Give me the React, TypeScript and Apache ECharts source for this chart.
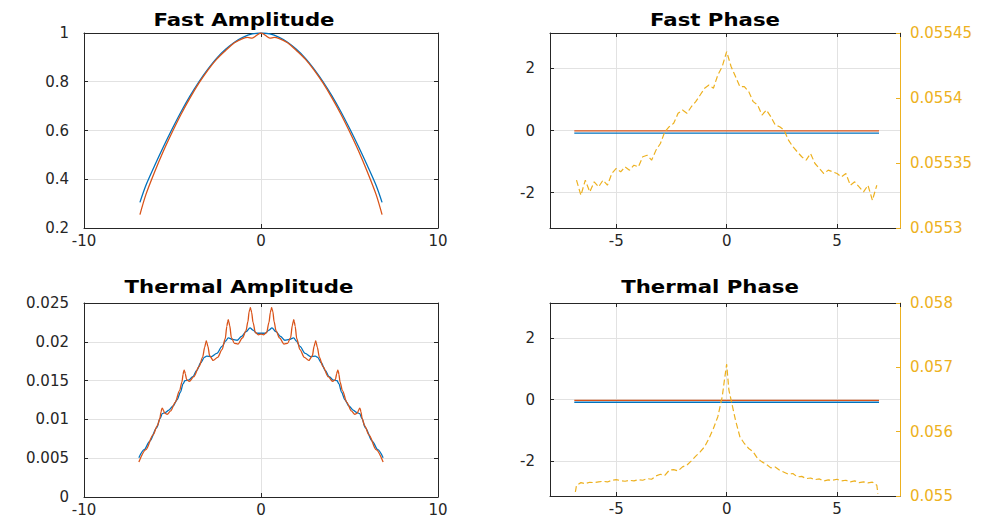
import React, { useEffect, useRef } from "react";
import * as echarts from "echarts";

// ---------------- Data ----------------
const fastAmpBlueX = [-6.84, -6.5, -6, -5.5, -5, -4.5, -4, -3.5, -3, -2.5, -2, -1.5, -1, -0.5, 0, 0.5, 1, 1.5, 2, 2.5, 3, 3.5, 4, 4.5, 5, 5.5, 6, 6.5, 6.84];
const fastAmpBlue = [0.305, 0.375, 0.457, 0.535, 0.609, 0.679, 0.743, 0.801, 0.852, 0.897, 0.933, 0.962, 0.983, 0.996, 1, 0.996, 0.983, 0.962, 0.933, 0.897, 0.852, 0.801, 0.743, 0.679, 0.609, 0.535, 0.457, 0.375, 0.305];

const fastAmpOrangeX = [-6.84, -6.5, -6, -5.5, -5, -4.5, -4, -3.5, -3, -2.5, -2, -1.5, -1, -0.75, -0.5, -0.25, 0, 0.25, 0.5, 0.75, 1, 1.5, 2, 2.5, 3, 3.5, 4, 4.5, 5, 5.5, 6, 6.5, 6.84];
const fastAmpOrange = [0.255, 0.338, 0.432, 0.518, 0.596, 0.669, 0.735, 0.795, 0.848, 0.893, 0.928, 0.96, 0.978, 0.982, 0.979, 0.99, 1, 0.99, 0.979, 0.982, 0.978, 0.96, 0.928, 0.893, 0.848, 0.795, 0.735, 0.669, 0.596, 0.518, 0.432, 0.338, 0.255];

const phaseLineX = [-6.9, 6.9];
const fastPhaseBlue = [-0.085, -0.085];
const fastPhaseOrange = [-0.01, -0.01];
const thermalPhaseBlue = [-0.09, -0.09];
const thermalPhaseOrange = [-0.03, -0.03];

const fastPhaseYellowX = [-6.8, -6.6, -6.4, -6.2, -6, -5.8, -5.6, -5.4, -5.2, -5, -4.8, -4.6, -4.4, -4.2, -4, -3.8, -3.6, -3.4, -3.2, -3, -2.8, -2.6, -2.4, -2.2, -2, -1.8, -1.6, -1.4, -1.2, -1, -0.8, -0.6, -0.4, -0.2, 0, 0.2, 0.4, 0.6, 0.8, 1, 1.2, 1.4, 1.6, 1.8, 2, 2.2, 2.4, 2.6, 2.8, 3, 3.2, 3.4, 3.6, 3.8, 4, 4.2, 4.4, 4.6, 4.8, 5, 5.2, 5.4, 5.6, 5.8, 6, 6.2, 6.4, 6.6, 6.8];
const fastPhaseYellow = [0.0553368, 0.0553252, 0.0553368, 0.0553278, 0.0553355, 0.0553316, 0.0553368, 0.0553329, 0.0553419, 0.0553458, 0.0553432, 0.055347, 0.0553445, 0.0553483, 0.055347, 0.0553548, 0.055356, 0.0553522, 0.0553599, 0.055365, 0.055374, 0.0553779, 0.0553805, 0.0553882, 0.0553907, 0.0553882, 0.0553933, 0.0553972, 0.0554023, 0.0554075, 0.05541, 0.0554075, 0.0554177, 0.0554242, 0.0554357, 0.0554242, 0.0554165, 0.0554087, 0.0554087, 0.0554049, 0.0553972, 0.0553946, 0.0553869, 0.0553907, 0.0553856, 0.0553792, 0.0553779, 0.0553753, 0.0553676, 0.0553625, 0.0553586, 0.0553548, 0.0553522, 0.0553573, 0.0553496, 0.0553458, 0.0553419, 0.0553445, 0.0553432, 0.0553419, 0.0553393, 0.0553419, 0.0553329, 0.0553355, 0.0553316, 0.0553278, 0.0553329, 0.0553213, 0.0553329];

const thermalAmpBlueX = [-6.9, -6.6, -6.28, -5.9, -5.7, -5.58, -5.4, -5.2, -4.96, -4.75, -4.55, -4.4, -4.3, -4.1, -3.85, -3.64, -3.4, -3.2, -3.07, -2.8, -2.5, -2.2, -2, -1.85, -1.6, -1.35, -1.1, -0.85, -0.62, -0.45, -0.25, 0, 0.25, 0.45, 0.62, 0.85, 1.1, 1.35, 1.6, 1.85, 2, 2.2, 2.5, 2.8, 3.07, 3.2, 3.4, 3.64, 3.85, 4.1, 4.3, 4.4, 4.55, 4.75, 4.96, 5.2, 5.4, 5.58, 5.7, 5.9, 6.28, 6.6, 6.9];
const thermalAmpBlue = [0.00505, 0.0061, 0.0072, 0.0089, 0.0101, 0.01075, 0.0109, 0.0112, 0.01174, 0.0125, 0.0135, 0.0146, 0.015, 0.01505, 0.0155, 0.01628, 0.0173, 0.018, 0.01815, 0.0181, 0.0185, 0.0194, 0.0201, 0.0205, 0.0203, 0.0202, 0.0207, 0.0213, 0.0218, 0.0215, 0.0211, 0.0211, 0.0211, 0.0215, 0.0218, 0.0213, 0.0207, 0.0202, 0.0203, 0.0205, 0.0201, 0.0194, 0.0185, 0.0181, 0.01815, 0.018, 0.0173, 0.01628, 0.0155, 0.01505, 0.015, 0.0146, 0.0135, 0.0125, 0.01174, 0.0112, 0.0109, 0.01075, 0.0101, 0.0089, 0.0072, 0.0061, 0.00505];

const thermalAmpOrangeX = [-6.9, -6.5, -6.1, -5.85, -5.72, -5.64, -5.61, -5.58, -5.55, -5.52, -5.44, -5.3, -5.1, -4.85, -4.6, -4.47, -4.4, -4.37, -4.34, -4.31, -4.28, -4.2, -4.05, -3.8, -3.5, -3.3, -3.18, -3.12, -3.09, -3.06, -3, -2.9, -2.7, -2.45, -2.2, -2.02, -1.93, -1.88, -1.85, -1.82, -1.77, -1.67, -1.5, -1.3, -1.05, -0.85, -0.74, -0.67, -0.63, -0.6, -0.57, -0.53, -0.45, -0.32, -0.15, 0,
  0.15, 0.32, 0.45, 0.53, 0.57, 0.6, 0.63, 0.67, 0.74, 0.85, 1.05, 1.3, 1.5, 1.67, 1.77, 1.82, 1.85, 1.88, 1.93, 2.02, 2.2, 2.45, 2.7, 2.9, 3, 3.06, 3.09, 3.12, 3.18, 3.3, 3.5, 3.8, 4.05, 4.2, 4.28, 4.31, 4.34, 4.37, 4.4, 4.47, 4.6, 4.85, 5.1, 5.3, 5.44, 5.52, 5.55, 5.58, 5.61, 5.64, 5.72, 5.85, 6.1, 6.5, 6.9];
const thermalAmpOrange = [0.0045, 0.0061, 0.008, 0.0092, 0.0101, 0.011, 0.01136, 0.01144, 0.01136, 0.0112, 0.0108, 0.01065, 0.0111, 0.0122, 0.0137, 0.0148, 0.0158, 0.0162, 0.01635, 0.0162, 0.0159, 0.0151, 0.0149, 0.0155, 0.0168, 0.018, 0.0193, 0.01988, 0.0201, 0.01988, 0.0194, 0.0182, 0.0176, 0.018, 0.019, 0.0204, 0.022, 0.0226, 0.02285, 0.0226, 0.0221, 0.0205, 0.0198, 0.0197, 0.0205, 0.0214, 0.0226, 0.0239, 0.02415, 0.0244, 0.02415, 0.0238, 0.0225, 0.0212, 0.0209, 0.021,
  0.0209, 0.0212, 0.0225, 0.0238, 0.02415, 0.0244, 0.02415, 0.0239, 0.0226, 0.0214, 0.0205, 0.0197, 0.0198, 0.0205, 0.0221, 0.0226, 0.02285, 0.0226, 0.022, 0.0204, 0.019, 0.018, 0.0176, 0.0182, 0.0194, 0.01988, 0.0201, 0.01988, 0.0193, 0.018, 0.0168, 0.0155, 0.0149, 0.0151, 0.0159, 0.0162, 0.01635, 0.0162, 0.0158, 0.0148, 0.0137, 0.0122, 0.0111, 0.01065, 0.0108, 0.0112, 0.01136, 0.01144, 0.01136, 0.011, 0.0101, 0.0092, 0.008, 0.0061, 0.0045];

const thermalPhaseYellowX = [-6.85, -6.8, -6.6, -6.4, -6.2, -6, -5.8, -5.6, -5.4, -5.2, -5, -4.8, -4.6, -4.4, -4.2, -4, -3.8, -3.6, -3.4, -3.2, -3, -2.8, -2.6, -2.4, -2.2, -2, -1.8, -1.6, -1.4, -1.2, -1, -0.8, -0.6, -0.4, -0.2, -0.1, 0, 0.1, 0.2, 0.4, 0.6, 0.8, 1, 1.2, 1.4, 1.6, 1.8, 2, 2.2, 2.4, 2.6, 2.8, 3, 3.2, 3.4, 3.6, 3.8, 4, 4.2, 4.4, 4.6, 4.8, 5, 5.2, 5.4, 5.6, 5.8, 6, 6.2, 6.4, 6.6, 6.8, 6.85];
const thermalPhaseYellow = [0.0550624, 0.0551664, 0.055208, 0.0551924, 0.0552132, 0.055208, 0.0552184, 0.0552288, 0.0552184, 0.0552444, 0.0552548, 0.0552392, 0.0552288, 0.0552444, 0.055234, 0.0552548, 0.0552444, 0.0552704, 0.05526, 0.055312, 0.055338, 0.05532, 0.0554004, 0.0554108, 0.05539, 0.0554524, 0.05548, 0.055546, 0.0556188, 0.0556864, 0.0557644, 0.0558944, 0.0560504, 0.0562324, 0.0565445, 0.0568045, 0.0570489, 0.0566485, 0.0564925, 0.0561804, 0.0559204, 0.0558164, 0.0557384, 0.0556864, 0.0555824, 0.0555304, 0.05549, 0.0554368, 0.05545, 0.0554004, 0.05537, 0.055338, 0.05535, 0.0552964, 0.055305, 0.0552704, 0.05528, 0.0552548, 0.055265, 0.055234, 0.05525, 0.0552444, 0.05526, 0.055234, 0.055245, 0.0552184, 0.055235, 0.055208, 0.05522, 0.0552028, 0.055215, 0.0551664, 0.0550364];

const titles = ["Fast Amplitude", "Fast Phase", "Thermal Amplitude", "Thermal Phase"];

// ---------------- Styles ----------------
const BLUE = "#0072BD";
const ORANGE = "#D95319";
const YELLOW = "#EDB120";
const AXIS = "#262626";
const GRID = "#e2e2e2";
const FONT = "DejaVu Sans";

const pair = (xs: number[], ys: number[]) => xs.map((x, i) => [x, ys[i]]);

function xAx(gridIndex: number, position: string, cfg: any, labels: boolean) {
  return {
    type: "value",
    gridIndex,
    position,
    ...cfg,
    axisLine: { show: true, onZero: false, lineStyle: { color: AXIS, width: 1 } },
    axisTick: { show: true, inside: true, length: 4, lineStyle: { color: AXIS, width: 1 } },
    axisLabel: {
      show: labels,
      color: AXIS,
      fontSize: 15,
      fontFamily: FONT,
      margin: 5,
      showMinLabel: cfg.showEnds,
      showMaxLabel: cfg.showEnds,
    },
    splitLine: { show: labels, lineStyle: { color: GRID, width: 1 } },
  };
}

function yAx(gridIndex: number, position: string, cfg: any, labels: boolean, color: string, split: boolean) {
  return {
    type: "value",
    gridIndex,
    position,
    ...cfg,
    axisLine: { show: true, onZero: false, lineStyle: { color, width: 1 } },
    axisTick: { show: true, inside: true, length: 4, lineStyle: { color, width: 1 } },
    axisLabel: {
      show: labels,
      color,
      fontSize: 15,
      fontFamily: FONT,
      margin: position === "right" ? 10 : 15,
      showMinLabel: cfg.showEnds,
      showMaxLabel: cfg.showEnds,
    },
    splitLine: { show: split, lineStyle: { color: GRID, width: 1 } },
  };
}

function line(xs: number[], ys: number[], color: string, xi: number, yi: number, extra: any = {}) {
  return {
    type: "line",
    xAxisIndex: xi,
    yAxisIndex: yi,
    data: pair(xs, ys),
    showSymbol: false,
    symbol: "none",
    silent: true,
    lineStyle: { color, width: 1.3 },
    itemStyle: { color },
    ...extra,
  };
}

export default function App() {
  const ref = useRef<HTMLDivElement>(null);
  useEffect(() => {
    const chart = echarts.init(ref.current!, null, { renderer: "svg" });

    const leftX = { min: -10, max: 10, interval: 10, showEnds: true };
    const rightX = { min: -8, max: 7.85, splitNumber: 3, minInterval: 5, maxInterval: 5, showEnds: false };
    const phaseY = { min: -Math.PI, max: Math.PI, splitNumber: 3, minInterval: 2, maxInterval: 2, showEnds: false };
    const fastAmpY = { min: 0.2, max: 1, interval: 0.2, showEnds: true };
    const thermAmpY = { min: 0, max: 0.025, interval: 0.005, showEnds: true };
    const fastPhaseR = { min: 0.0553, max: 0.05545, interval: 0.00005, showEnds: true };
    const thermPhaseR = { min: 0.055, max: 0.058, interval: 0.001, showEnds: true };

    const titleCenters = [
      [244, 20],
      [715, 20],
      [239, 287],
      [710, 287],
    ];

    const option: any = {
      animation: false,
      backgroundColor: "#ffffff",
      grid: [
        { left: 84, top: 33, width: 354, height: 195 },
        { left: 550, top: 33, width: 350, height: 195 },
        { left: 84, top: 303, width: 354, height: 194 },
        { left: 550, top: 303, width: 350, height: 193 },
      ],
      xAxis: [
        xAx(0, "bottom", leftX, true),
        xAx(0, "top", leftX, false),
        xAx(1, "bottom", rightX, true),
        xAx(1, "top", rightX, false),
        xAx(2, "bottom", leftX, true),
        xAx(2, "top", leftX, false),
        xAx(3, "bottom", rightX, true),
        xAx(3, "top", rightX, false),
      ],
      yAxis: [
        yAx(0, "left", fastAmpY, true, AXIS, true),
        yAx(0, "right", fastAmpY, false, AXIS, false),
        yAx(1, "left", phaseY, true, AXIS, true),
        yAx(1, "right", fastPhaseR, true, YELLOW, false),
        yAx(2, "left", thermAmpY, true, AXIS, true),
        yAx(2, "right", thermAmpY, false, AXIS, false),
        yAx(3, "left", phaseY, true, AXIS, true),
        yAx(3, "right", thermPhaseR, true, YELLOW, false),
      ],
      graphic: titles.map((t, i) => ({
        type: "text",
        x: titleCenters[i][0],
        y: titleCenters[i][1],
        scaleX: 1.25,
        style: {
          text: t,
          fontFamily: FONT,
          fontWeight: "bold",
          fontSize: 17,
          fill: "#000000",
          align: "center",
          verticalAlign: "middle",
        },
        silent: true,
      })),
      series: [
        line(fastAmpBlueX, fastAmpBlue, BLUE, 0, 0, { smooth: 0.3 }),
        line(fastAmpOrangeX, fastAmpOrange, ORANGE, 0, 0, { smooth: 0.3 }),
        line(phaseLineX, fastPhaseBlue, BLUE, 2, 2),
        line(phaseLineX, fastPhaseOrange, ORANGE, 2, 2),
        line(fastPhaseYellowX, fastPhaseYellow, YELLOW, 2, 3, { lineStyle: { color: YELLOW, width: 1.2, type: [6, 3] } }),
        line(thermalAmpBlueX, thermalAmpBlue, BLUE, 4, 4, { smooth: 0.3, smoothMonotone: "x" }),
        line(thermalAmpOrangeX, thermalAmpOrange, ORANGE, 4, 4, { smooth: 0.3, smoothMonotone: "x" }),
        line(phaseLineX, thermalPhaseBlue, BLUE, 6, 6),
        line(phaseLineX, thermalPhaseOrange, ORANGE, 6, 6),
        line(thermalPhaseYellowX, thermalPhaseYellow, YELLOW, 6, 7, { lineStyle: { color: YELLOW, width: 1.2, type: [6, 3] } }),
      ],
    };
    chart.setOption(option);
    return () => chart.dispose();
  }, []);
  return (
    <div
      ref={ref}
      style={{ position: "absolute", left: 0, top: 0, width: 994, height: 522, background: "#ffffff" }}
    />
  );
}
